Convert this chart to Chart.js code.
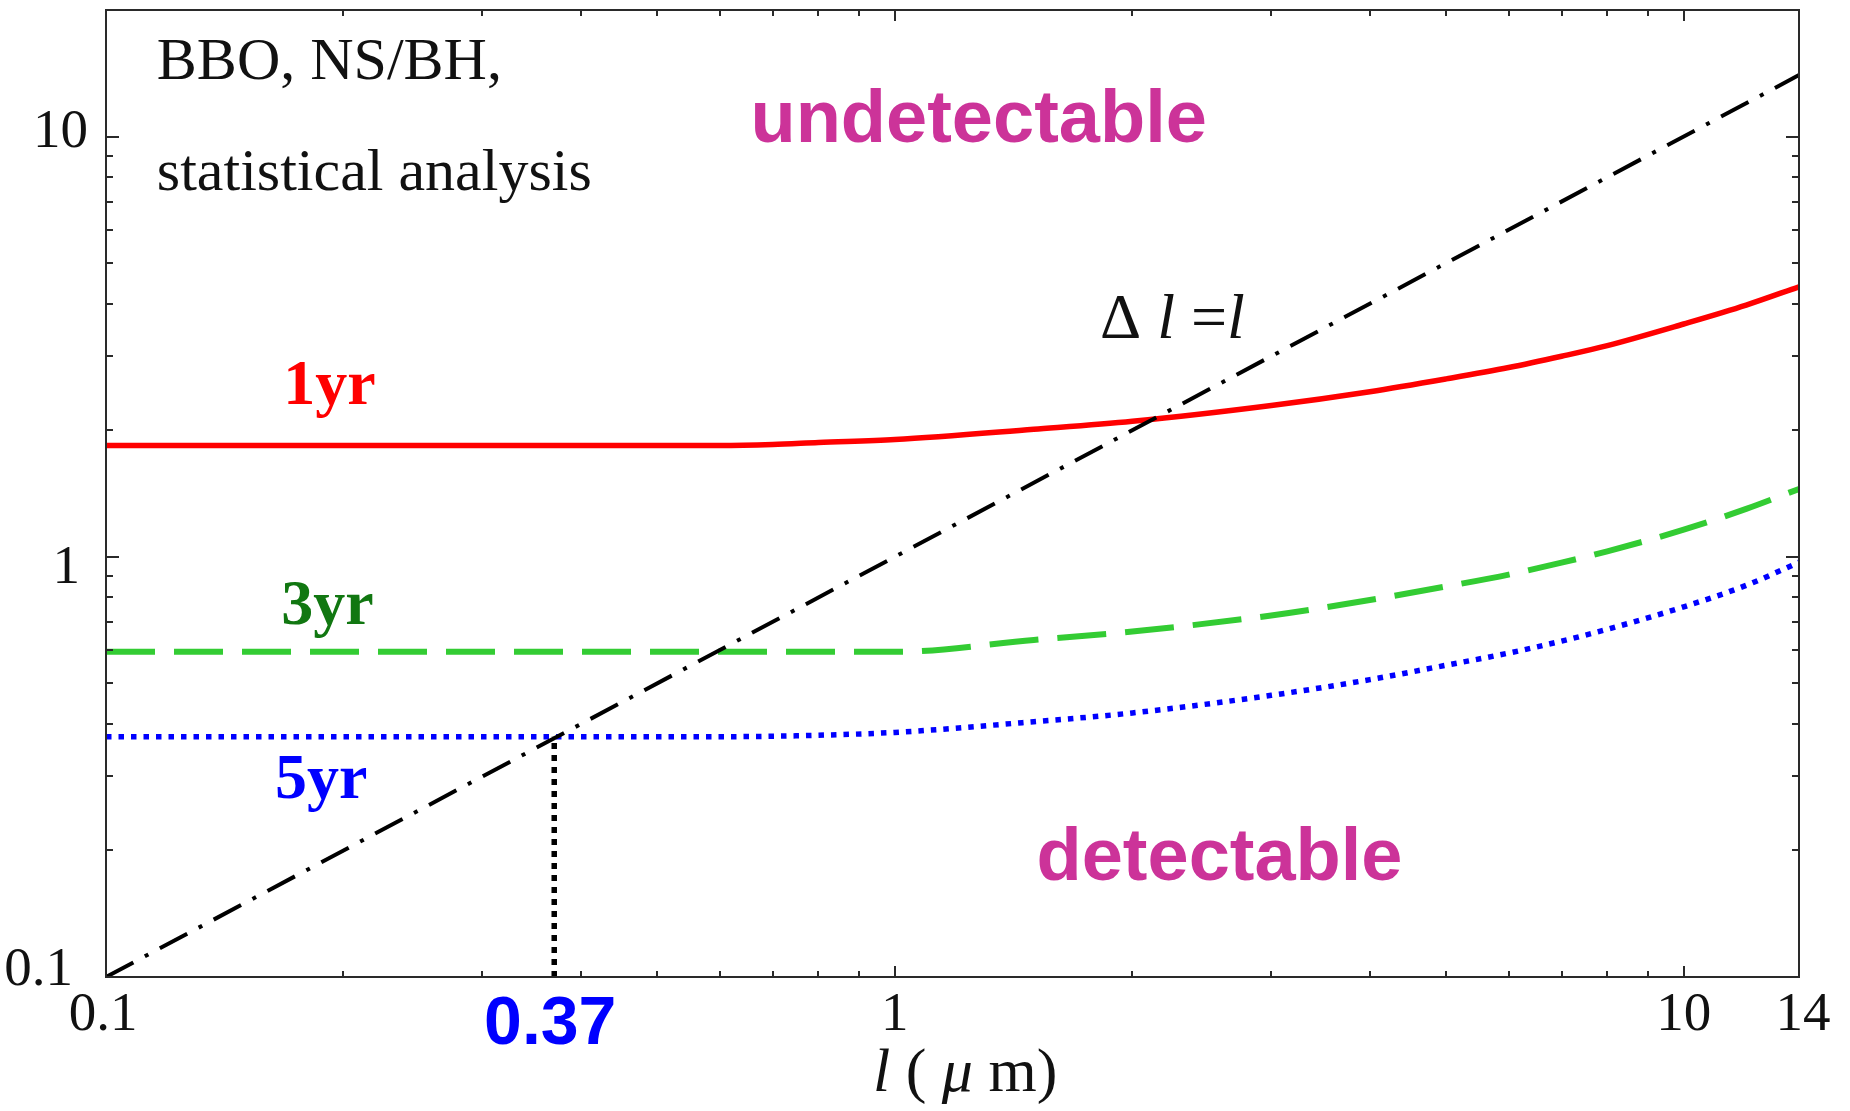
<!DOCTYPE html>
<html>
<head>
<meta charset="utf-8">
<script src="https://cdn.jsdelivr.net/npm/chart.js@4/dist/chart.umd.min.js"></script>
<style>
  html, body { margin: 0; padding: 0; background: #ffffff; }
  canvas { display: block; }
</style>
</head>
<body>
<canvas id="c" width="1850" height="1111"></canvas>
<script>
// ---- data ----
const lValues   = [0.1, 0.2, 0.3, 0.4, 0.5, 0.6, 0.7, 0.8, 1, 1.5, 2, 3, 4, 5, 6, 7, 8, 10, 12, 14];
const oneYear   = [1.84, 1.84, 1.84, 1.84, 1.84, 1.84, 1.85, 1.87, 1.9, 2.01, 2.10, 2.29, 2.47, 2.65, 2.82, 3.0, 3.18, 3.58, 3.97, 4.39];
const threeYear = [0.594, 0.594, 0.594, 0.594, 0.594, 0.594, 0.594, 0.594, 0.594, 0.634, 0.664, 0.725, 0.789, 0.85, 0.907, 0.968, 1.03, 1.16, 1.30, 1.45];
const fiveYear  = [0.373, 0.373, 0.373, 0.373, 0.373, 0.373, 0.374, 0.376, 0.382, 0.405, 0.425, 0.468, 0.51, 0.552, 0.59, 0.63, 0.672, 0.76, 0.855, 0.97];
const diagonalX = [0.1, 14];
const diagonalY = [0.1, 14];
const markerX   = [0.37, 0.37];
const markerY   = [0.1, 0.373];

const xRange = [0.1, 14];
const yRange = [0.1, 20];
const xMajorTicks = [0.1, 1, 10];
const xMinorTicks = [0.2, 0.3, 0.4, 0.5, 0.6, 0.7, 0.8, 0.9, 2, 3, 4, 5, 6, 7, 8, 9];
const yMajorTicks = [0.1, 1, 10];
const yMinorTicks = [0.2, 0.3, 0.4, 0.5, 0.6, 0.7, 0.8, 0.9, 2, 3, 4, 5, 6, 7, 8, 9];
const xTickLabels = ['0.1', '1', '10', '14'];
const xTickValues = [0.1, 1, 10, 14];
const yTickLabels = ['0.1', '1', '10'];
const yTickValues = [0.1, 1, 10];
const markerLabel = '0.37';

function pts(xs, ys) { return xs.map((x, i) => ({ x: x, y: ys[i] })); }

const SERIF = '"Liberation Serif", "Times New Roman", serif';
const SANS = '"Liberation Sans", Arial, Helvetica, sans-serif';

const framePlugin = {
  id: 'frame',
  beforeDraw(chart) {
    const ctx = chart.ctx;
    ctx.save();
    ctx.fillStyle = '#ffffff';
    ctx.fillRect(0, 0, chart.width, chart.height);
    ctx.restore();
  },
  afterDatasetsDraw(chart) {
    const ctx = chart.ctx;
    const a = chart.chartArea;
    const xs = chart.scales.x, ys = chart.scales.y;
    ctx.save();
    // frame
    ctx.strokeStyle = '#2a2a2a';
    ctx.lineWidth = 2;
    ctx.strokeRect(a.left, a.top, a.right - a.left, a.bottom - a.top);
    // ticks (inward, all sides)
    ctx.lineWidth = 2;
    ctx.beginPath();
    const xt = (v, len) => {
      const p = Math.round(xs.getPixelForValue(v));
      ctx.moveTo(p, a.bottom); ctx.lineTo(p, a.bottom - len);
      ctx.moveTo(p, a.top); ctx.lineTo(p, a.top + len);
    };
    const yt = (v, len) => {
      const p = Math.round(ys.getPixelForValue(v));
      ctx.moveTo(a.left, p); ctx.lineTo(a.left + len, p);
      ctx.moveTo(a.right, p); ctx.lineTo(a.right - len, p);
    };
    xMajorTicks.forEach(v => xt(v, 11));
    xMinorTicks.forEach(v => xt(v, 6));
    yMajorTicks.forEach(v => yt(v, 13));
    yMinorTicks.forEach(v => yt(v, 7));
    ctx.stroke();

    // tick labels
    ctx.fillStyle = '#111111';
    ctx.font = '55px ' + SERIF;
    ctx.textBaseline = 'alphabetic';
    ctx.textAlign = 'right';
    yTickValues.forEach((v, i) => {
      const p = ys.getPixelForValue(v);
      let dx = -18, dy = 10;
      if (v === 0.1) { dx = -33; dy = 8; }
      if (v === 1) { dx = -26; dy = 26; }
      ctx.fillText(yTickLabels[i], a.left + dx, p + dy);
    });
    ctx.textAlign = 'center';
    xTickValues.forEach((v, i) => {
      const p = xs.getPixelForValue(v);
      let dx = 0;
      if (v === 0.1) dx = -3;
      if (v === 14) dx = 4;
      ctx.fillText(xTickLabels[i], p + dx, a.bottom + 53);
    });

    // marker label 0.37
    ctx.fillStyle = '#0000ff';
    ctx.font = 'bold 68px ' + SANS;
    ctx.textAlign = 'center';
    ctx.fillText(markerLabel, xs.getPixelForValue(0.37) - 4, a.bottom + 67);

    // axis title: l ( μ m)
    drawRich(ctx, [
      { t: 'l', f: 'italic 62px ' + SERIF },
      { t: ' ( ', f: '62px ' + SERIF },
      { t: 'μ', f: 'italic 62px ' + SERIF },
      { t: ' m)', f: '62px ' + SERIF }
    ], 873, a.bottom + 114, '#111111');

    // annotations in data coordinates
    const at = (x, y) => [xs.getPixelForValue(x), ys.getPixelForValue(y)];
    ctx.textAlign = 'left';
    let p;
    ctx.fillStyle = '#111111';
    ctx.font = '60px ' + SERIF;
    p = at(0.116, 13.7); ctx.fillText('BBO, NS/BH,', p[0], p[1]);
    p = at(0.116, 7.44); ctx.fillText('statistical analysis', p[0], p[1]);

    ctx.fillStyle = '#cc3399';
    ctx.font = 'bold 74px ' + SANS;
    p = at(0.656, 9.73); ctx.fillText('undetectable', p[0], p[1]);
    p = at(1.512, 0.170); ctx.fillText('detectable', p[0], p[1]);

    ctx.font = 'bold 64px ' + SERIF;
    ctx.fillStyle = '#ff0000';
    p = at(0.1677, 2.31); ctx.fillText('1yr', p[0], p[1]);
    ctx.fillStyle = '#117711';
    p = at(0.1668, 0.693); ctx.fillText('3yr', p[0], p[1]);
    ctx.fillStyle = '#0000ff';
    p = at(0.1638, 0.267); ctx.fillText('5yr', p[0], p[1]);

    p = at(1.82, 3.32);
    drawRich(ctx, [
      { t: 'Δ ', f: '64px ' + SERIF },
      { t: 'l', f: 'italic 64px ' + SERIF },
      { t: ' =', f: '64px ' + SERIF },
      { t: 'l', f: 'italic 64px ' + SERIF }
    ], p[0], p[1], '#111111');
    ctx.restore();
  }
};

function drawRich(ctx, parts, x, y, color) {
  ctx.save();
  ctx.textAlign = 'left';
  ctx.textBaseline = 'alphabetic';
  ctx.fillStyle = color;
  let cx = x;
  parts.forEach(pt => {
    ctx.font = pt.f;
    ctx.fillText(pt.t, cx, y);
    cx += ctx.measureText(pt.t).width;
  });
  ctx.restore();
}

new Chart(document.getElementById('c'), {
  type: 'line',
  data: {
    datasets: [
      {
        label: 'Δl = l',
        data: pts(diagonalX, diagonalY),
        borderColor: '#000000',
        borderWidth: 4,
        borderDash: [31, 13, 4, 13],
        borderCapStyle: 'butt',
        pointRadius: 0,
        tension: 0
      },
      {
        label: '0.37 marker',
        data: pts(markerX, markerY),
        borderColor: '#000000',
        borderWidth: 5.5,
        borderDash: [6, 6],
        borderCapStyle: 'butt',
        pointRadius: 0,
        tension: 0
      },
      {
        label: '1yr',
        data: pts(lValues, oneYear),
        borderColor: '#ff0000',
        borderWidth: 5.5,
        pointRadius: 0,
        cubicInterpolationMode: 'monotone'
      },
      {
        label: '3yr',
        data: pts(lValues, threeYear),
        borderColor: '#33cc33',
        borderWidth: 6,
        borderDash: [49, 19],
        borderCapStyle: 'butt',
        pointRadius: 0,
        cubicInterpolationMode: 'monotone'
      },
      {
        label: '5yr',
        data: pts(lValues, fiveYear),
        borderColor: '#0000ff',
        borderWidth: 5.5,
        borderDash: [5.5, 7],
        borderCapStyle: 'butt',
        pointRadius: 0,
        cubicInterpolationMode: 'monotone'
      }
    ]
  },
  options: {
    responsive: false,
    animation: false,
    devicePixelRatio: 1,
    layout: { padding: { left: 106, right: 51, top: 10, bottom: 134 } },
    plugins: { legend: { display: false }, tooltip: { enabled: false } },
    scales: {
      x: { type: 'logarithmic', min: xRange[0], max: xRange[1], display: false },
      y: { type: 'logarithmic', min: yRange[0], max: yRange[1], display: false }
    },
    elements: { line: { fill: false } }
  },
  plugins: [framePlugin]
});
</script>
</body>
</html>
